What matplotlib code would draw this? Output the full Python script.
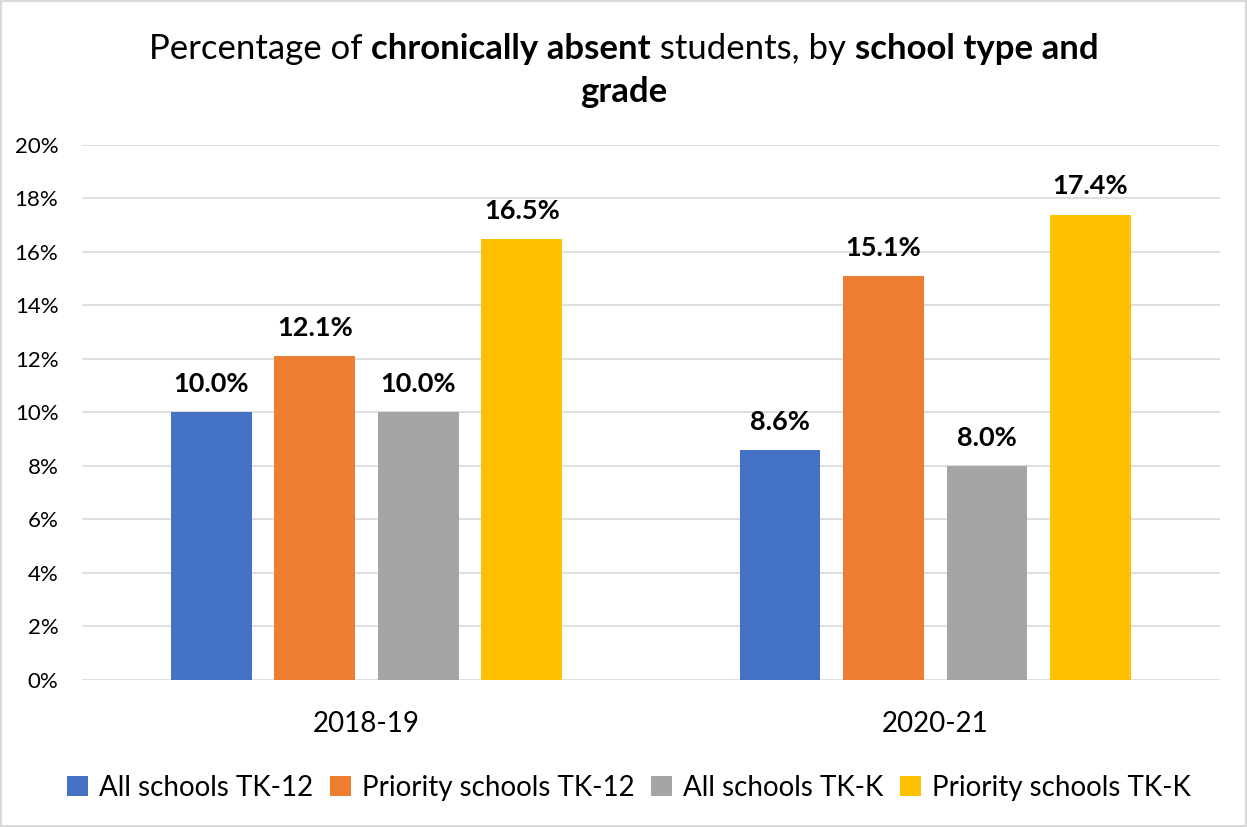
import matplotlib
matplotlib.use("Agg")
import matplotlib.pyplot as plt
import numpy as np
from matplotlib.patches import Rectangle

plt.rcParams['font.family'] = ['Lato', 'DejaVu Sans']

years = ["2018-19", "2020-21"]
series = ["All schools TK-12", "Priority schools TK-12", "All schools TK-K", "Priority schools TK-K"]
values = [
    [10.0, 8.6],
    [12.1, 15.1],
    [10.0, 8.0],
    [16.5, 17.4],
]
colors = ["#4472C4", "#ED7D31", "#A5A5A5", "#FFC000"]

fig = plt.figure(figsize=(12.47, 8.27), dpi=100)
ax = fig.add_axes([0.0658, 0.1778, 0.9122, 0.6469])

x = np.arange(len(years))
step = 0.182
width = 0.142
for i, (name, vals, c) in enumerate(zip(series, values, colors)):
    pos = x + (i - 1.5) * step
    bars = ax.bar(pos, vals, width, color=c, label=name, zorder=3)
    for b, v in zip(bars, vals):
        ax.text(b.get_x() + b.get_width() / 2, v + 0.6, f"{v:.1f}%",
                ha="center", va="bottom", fontsize=19.5, fontweight="bold")

ax.set_xlim(-0.5, 1.5)
ax.set_ylim(0, 20)
ax.set_yticks(np.arange(0, 21, 2))
ax.set_yticklabels([f"{t}%" for t in range(0, 21, 2)], fontsize=16)
ax.set_xticks(x)
ax.set_xticklabels(years, fontsize=20)
ax.grid(axis="y", color="#D9D9D9", linewidth=1.2, zorder=0)
for s in ax.spines.values():
    s.set_visible(False)
ax.tick_params(axis="both", length=0)
ax.tick_params(axis="y", pad=17)
ax.tick_params(axis="x", pad=22)

ax.legend(loc="upper center", bbox_to_anchor=(0.481, -0.13), ncol=4, frameon=False,
          fontsize=20, handlelength=0.75, handleheight=0.75, handletextpad=0.4,
          columnspacing=0.6)

# title with mixed weights
def title_line(parts, y):
    fig.canvas.draw()
    r = fig.canvas.get_renderer()
    texts = []
    for s, w in parts:
        t = fig.text(0, y, s, fontsize=25, fontweight=w, ha="left", va="baseline")
        texts.append(t)
    widths = [t.get_window_extent(r).width for t in texts]
    total = sum(widths)
    fw = fig.bbox.width
    xpos = (fw - total) / 2
    for t, w in zip(texts, widths):
        t.set_x(xpos / fw)
        xpos += w

title_line([("Percentage of ", "normal"), ("chronically absent", "bold"),
            (" students, by ", "normal"), ("school type and", "bold")], 0.929)
title_line([("grade", "bold")], 0.877)

fig.patches.append(Rectangle((0.001, 0.001), 0.998, 0.998, transform=fig.transFigure,
                             fill=False, edgecolor="#D9D9D9", linewidth=1.5))

fig.savefig("out.png", dpi=100)
